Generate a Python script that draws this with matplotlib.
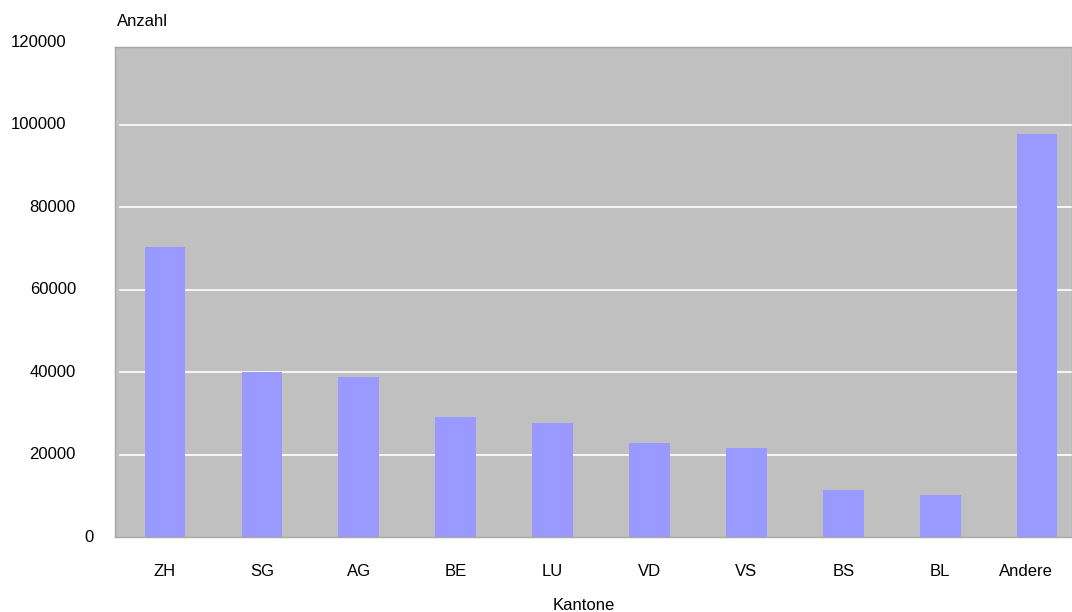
import matplotlib
matplotlib.use("Agg")
import matplotlib.pyplot as plt
import matplotlib.transforms as mtransforms

categories = ["ZH", "SG", "AG", "BE", "LU", "VD", "VS", "BS", "BL", "Andere"]
values = [70400, 40100, 38900, 29200, 27700, 22700, 21500, 11400, 10200, 97800]
ytick_values = [0, 20000, 40000, 60000, 80000, 100000, 120000]
ytick_labels = ["0", "20000", "40000", "60000", "80000", "100000", "120000"]

plt.rcParams["font.family"] = ["Liberation Sans", "DejaVu Sans"]
FS = 12

W, H = 1072, 612
fig = plt.figure(figsize=(W / 100, H / 100), dpi=100)
ax = fig.add_axes([115 / W, 1 - 537 / H, 957 / W, (537 - 46.7) / H])
ax.set_facecolor("#C0C0C0")

for yv in ytick_values[1:-1]:
    ax.axhline(yv, xmin=5 / 957, xmax=1, color="white", lw=1.2, zorder=1)

x = list(range(len(categories)))
ax.bar(x, values, width=0.42, color="#9999FF", zorder=2)

ax.set_xlim(-0.516, 9.36)
ax.set_ylim(0, 119000)

ax.set_xticks(x)
ax.set_xticklabels(categories, fontsize=FS)
ax.tick_params(axis="x", length=0, pad=19.5)
ax.set_yticks([])

# last label sits a bit left in the reference
last = ax.get_xticklabels()[-1]
last.set_transform(last.get_transform() +
                   mtransforms.ScaledTranslation(-11 / 100, 0, fig.dpi_scale_trans))

for s in ax.spines.values():
    s.set_color("#A8A8A8")
    s.set_linewidth(1)

trans = mtransforms.blended_transform_factory(fig.transFigure, ax.transData)
for yv, lab in zip(ytick_values, ytick_labels):
    right = {6: 66, 5: 76, 1: 94}.get(len(lab), 76)
    ax.text(right / W, yv, lab, transform=trans, ha="right", va="center",
            fontsize=FS, clip_on=False)

fig.text(117 / W, 1 - 22 / H, "Anzahl", ha="left", va="center", fontsize=FS)
fig.text(584 / W, 1 - 605 / H, "Kantone", ha="center", va="center", fontsize=FS)

fig.savefig("out.png", dpi=100)
